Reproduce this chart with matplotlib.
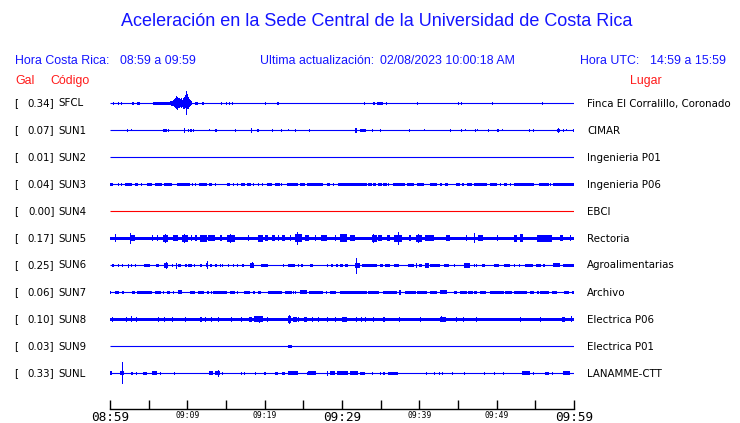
import matplotlib
matplotlib.use("Agg")
import matplotlib.pyplot as plt

# ---------------- data ----------------
title = "Aceleración en la Sede Central de la Universidad de Costa Rica"
hora_cr = "08:59 a 09:59"
ultima = "02/08/2023 10:00:18 AM"
hora_utc = "14:59 a 15:59"

gal = ["0.34", "0.07", "0.01", "0.04", "0.00", "0.17", "0.25", "0.06", "0.10", "0.03", "0.33"]
codes = ["SFCL", "SUN1", "SUN2", "SUN3", "SUN4", "SUN5", "SUN6", "SUN7", "SUN8", "SUN9", "SUNL"]
places = ["Finca El Corralillo, Coronado", "CIMAR", "Ingenieria P01", "Ingenieria P06", "EBCI",
          "Rectoria", "Agroalimentarias", "Archivo", "Electrica P06", "Electrica P01", "LANAMME-CTT"]
trace_colors = ["#0000ff"] * 4 + ["#ff0000"] + ["#0000ff"] * 6

# background noise level of each trace (relative amplitude)
noise = [0, 0, 0, 0, 0, 1.8, 0, 0, 1.6, 0, 0]

# bursts: (start minute, end minute, amplitude[, lower amplitude])
sfcl = [(0.43, 0.43, 1.5), (1.08, 1.08, 1.5), (1.38, 1.38, 1.5), (2.89, 3.15, 1.5), (3.45, 3.88, 1.8),
        (5.61, 6.69, 1.5), (6.78, 7.77, 1.5),
        (7.80, 7.95, 2), (7.95, 8.1, 2.5), (8.1, 8.25, 3), (8.25, 8.4, 4), (8.4, 8.5, 5),
        (8.5, 8.6, 7, 6), (8.6, 8.7, 4), (8.7, 8.85, 6, 7), (8.85, 9.0, 5), (9.0, 9.15, 4),
        (9.15, 9.3, 5), (9.3, 9.45, 3.5), (9.45, 9.6, 5, 6), (9.6, 9.7, 6), (9.7, 9.8, 8, 5),
        (9.8, 9.9, 12, 12), (9.9, 10.0, 7), (10.0, 10.1, 9, 6), (10.1, 10.2, 6), (10.2, 10.35, 4),
        (10.35, 10.5, 3), (10.5, 10.66, 2),
        (11.0, 11.44, 1.5), (11.9, 12.17, 1.5), (14.38, 14.38, 1.2), (14.98, 14.98, 1.5),
        (15.4, 15.4, 1.5), (15.76, 15.76, 1.5), (20.08, 20.08, 1.5), (21.67, 21.9, 1.2),
        (32.9, 32.9, 1.5), (34.1, 34.3, 1.5), (34.6, 35.4, 1.8), (35.75, 35.75, 1.5),
        (39.8, 39.8, 1.5), (45.0, 45.2, 1.5), (45.5, 45.5, 1.2), (49.4, 49.4, 1.5), (55.9, 55.9, 1.5)]

sun1 = [(2.16, 2.3, 1.5), (2.72, 2.72, 1.0), (6.9, 7.34, 1.5), (7.47, 7.47, 1.5), (9.63, 9.63, 2.2, 2.8),
        (10.06, 10.06, 1.5), (10.36, 10.66, 1.5), (10.79, 10.79, 1.5), (12.86, 12.86, 1.0),
        (13.6, 13.8, 1.5), (16.2, 16.2, 1.5), (18.2, 18.35, 2.0, 2.8), (19.0, 19.25, 1.5),
        (21.0, 21.0, 1.5), (22.1, 22.1, 1.2), (23.0, 23.0, 1.0), (23.9, 23.9, 1.5), (25.8, 25.8, 1.5),
        (31.7, 32.0, 2.0, 2.8), (32.3, 33.2, 1.8), (33.9, 33.9, 1.5), (34.9, 34.9, 1.5),
        (38.7, 38.7, 1.5), (40.6, 40.6, 1.0), (44.0, 44.0, 1.5), (45.4, 45.4, 1.5), (45.9, 45.9, 1.0),
        (47.2, 47.2, 1.5), (47.5, 47.5, 1.0), (48.9, 48.9, 1.5), (50.1, 50.4, 1.8), (50.7, 50.7, 1.0),
        (54.3, 54.3, 1.5), (54.7, 54.7, 1.5), (57.8, 58.3, 1.8), (58.05, 58.05, 2.5, 3.0),
        (58.7, 58.7, 1.2), (59.0, 59.0, 1.0), (59.9, 59.9, 1.5)]

sun2 = []

sun3 = [(0.0, 0.43, 1.6), (1.08, 1.08, 1.5), (1.42, 1.42, 1.5), (1.94, 2.8, 1.6), (3.24, 3.67, 1.6),
        (4.0, 4.0, 1.5), (4.75, 5.4, 1.6), (5.83, 6.69, 1.6), (7.0, 7.99, 1.6), (8.63, 10.36, 1.6),
        (10.66, 10.66, 1.5), (11.0, 11.0, 1.5), (11.57, 12.52, 1.6), (12.87, 13.25, 1.6), (13.6, 13.6, 1.5),
        (15.1, 15.54, 1.6), (15.97, 15.97, 1.5), (16.5, 16.5, 1.5), (16.97, 17.5, 1.6), (17.7, 18.22, 1.6),
        (18.56, 18.56, 1.5), (19.2, 19.2, 1.5), (19.64, 19.64, 1.5), (20.3, 20.94, 1.6), (21.37, 22.0, 1.6),
        (22.2, 22.2, 1.5), (22.9, 24.4, 1.6), (24.6, 25.26, 1.6), (25.47, 27.63, 1.6), (28.06, 28.5, 1.6),
        (28.9, 28.9, 1.5), (29.57, 33.25, 1.6), (33.46, 33.9, 1.6), (34.1, 34.45, 1.6), (34.75, 35.2, 1.6),
        (35.4, 35.83, 1.6), (36.05, 36.05, 1.5), (36.6, 38.2, 1.6), (38.4, 39.3, 1.6), (39.7, 40.6, 1.6),
        (41.4, 42.3, 1.6), (42.66, 42.96, 1.6), (43.4, 43.8, 1.6), (44.8, 45.25, 1.6), (45.55, 45.85, 1.6),
        (46.2, 46.85, 1.6), (47.06, 48.8, 1.6), (49.2, 50.1, 1.6), (50.43, 50.43, 1.5), (50.95, 51.4, 1.6),
        (51.8, 51.8, 1.5), (52.24, 54.83, 1.6), (55.57, 56.8, 1.6), (57.0, 57.0, 1.5), (57.4, 60.15, 1.6)]

sun4 = []

sun5 = [(0.6, 0.75, 4), (2.59, 3.24, 3), (2.63, 2.72, 5.5), (5.4, 5.6, 3), (6.04, 6.04, 3), (6.9, 7.55, 3.5),
        (7.1, 7.2, 4.5), (8.2, 8.85, 3), (9.28, 10.15, 3.5), (9.6, 9.75, 4.5), (10.5, 10.5, 3), (11.0, 11.2, 3),
        (11.65, 12.52, 3.5), (12.74, 13.6, 3), (14.25, 14.55, 3), (15.1, 16.19, 3.5), (15.5, 15.6, 4.5),
        (17.9, 17.9, 3), (19.2, 19.86, 3.5), (20.08, 20.5, 3), (20.94, 21.37, 3), (21.8, 21.8, 3),
        (22.23, 22.67, 3), (23.3, 23.3, 3), (23.96, 24.82, 4), (24.2, 24.35, 6.5), (25.26, 25.7, 3),
        (26.55, 26.55, 3), (27.33, 28.06, 3), (29.14, 29.14, 3), (29.79, 30.65, 4), (31.1, 31.73, 3),
        (33.9, 34.54, 3.5), (34.0, 34.1, 4.5), (34.75, 35.2, 3), (35.83, 36.27, 3), (36.7, 37.8, 3.5),
        (37.3, 37.45, 6.5), (38.77, 38.77, 3), (39.63, 40.37, 3.5), (39.9, 40.0, 4.5), (40.8, 41.9, 3),
        (43.5, 44.04, 3), (46.1, 46.1, 3), (47.1, 47.3, 5), (47.58, 48.27, 3), (50.08, 50.08, 3),
        (52.24, 52.67, 3.5), (53.1, 53.45, 4), (55.26, 57.2, 3.5), (58.29, 58.63, 3), (59.58, 59.58, 3)]

sun6 = [(0.21, 0.56, 1.6), (1.08, 1.08, 1.5), (1.6, 1.6, 1.5), (2.37, 2.37, 1.5, 2.8), (2.72, 2.72, 1.5),
        (3.24, 3.24, 1.5), (4.45, 5.18, 1.6), (5.91, 6.35, 1.6), (7.04, 7.55, 2.2), (7.2, 7.3, 3.2),
        (7.99, 7.99, 1.5), (8.55, 8.55, 2.0, 3.8), (8.76, 9.19, 1.6), (9.71, 9.93, 1.6), (10.15, 10.66, 1.6),
        (10.92, 10.92, 1.5), (11.66, 11.87, 1.6), (12.43, 12.74, 2.0), (12.5, 12.58, 4.5, 4.0),
        (12.95, 13.25, 1.6), (13.6, 13.8, 1.6), (14.25, 14.25, 1.5), (14.55, 14.55, 1.5), (15.33, 15.33, 1.5),
        (15.9, 15.9, 1.5), (16.4, 16.4, 1.5), (17.05, 17.3, 1.6), (18.13, 18.7, 2.2), (18.35, 18.45, 3.0),
        (19.56, 20.5, 1.6), (22.45, 22.45, 1.5), (23.1, 23.96, 1.6), (24.3, 24.3, 1.5), (24.74, 25.04, 1.6),
        (25.9, 26.3, 1.6), (28.06, 28.06, 1.5), (28.6, 28.84, 1.6), (29.3, 29.57, 1.6), (29.79, 30.1, 1.6),
        (30.4, 30.87, 1.6), (31.73, 32.38, 2.2), (31.82, 31.9, 7.3, 9.0), (32.6, 34.54, 1.5),
        (34.97, 35.4, 1.6), (35.62, 36.27, 1.6), (36.78, 37.47, 1.6), (38.64, 39.29, 1.6), (39.63, 39.63, 2.5),
        (39.94, 40.37, 1.6), (40.8, 41.23, 2.5), (41.45, 42.74, 1.6), (43.26, 43.82, 1.6), (44.47, 44.47, 1.5),
        (45.77, 46.63, 2.2), (47.06, 47.06, 1.5), (47.4, 47.4, 1.5), (48.14, 48.57, 1.6), (49.65, 50.3, 1.6),
        (50.95, 51.8, 1.6), (52.24, 52.24, 1.5), (52.89, 52.89, 1.5), (53.67, 54.75, 1.6), (55.18, 55.78, 1.6),
        (56.1, 56.34, 1.6), (57.4, 58.29, 2.0), (58.63, 60.0, 1.6)]

sun7 = [(0.0, 0.13, 1.5), (0.65, 1.16, 1.6), (1.5, 1.85, 1.6), (2.89, 3.24, 1.6), (3.45, 5.4, 1.6),
        (5.83, 6.6, 1.6), (6.9, 6.9, 1.5), (7.34, 7.77, 1.6), (8.2, 8.2, 1.5), (8.85, 9.28, 2.0),
        (10.36, 11.0, 1.6), (11.35, 12.22, 1.6), (12.52, 12.82, 1.6), (13.08, 13.08, 1.5), (13.38, 15.11, 1.6),
        (15.54, 16.19, 1.6), (16.4, 16.4, 1.5), (17.4, 18.13, 1.6), (18.56, 18.78, 1.6), (19.2, 19.56, 1.6),
        (20.5, 22.23, 1.6), (22.67, 23.53, 1.6), (23.75, 23.75, 1.5), (23.96, 23.96, 1.5), (24.6, 25.47, 2.0),
        (25.77, 27.63, 1.6), (27.93, 27.93, 1.5), (28.5, 29.23, 1.6), (29.79, 33.25, 1.6), (33.46, 34.88, 1.6),
        (35.4, 37.13, 1.6), (37.35, 37.65, 2.5), (38.2, 39.63, 1.6), (39.8, 41.0, 1.6), (41.45, 42.3, 1.6),
        (42.74, 43.6, 2.0), (44.47, 44.9, 1.6), (45.33, 46.2, 1.6), (46.4, 46.97, 1.6), (47.15, 47.5, 1.6),
        (47.93, 48.7, 1.6), (49.2, 49.65, 1.6), (49.74, 50.95, 1.6), (51.16, 52.03, 1.6), (52.24, 53.97, 1.6),
        (54.4, 54.83, 1.6), (55.26, 55.48, 1.6), (55.7, 56.78, 1.6), (57.2, 57.85, 1.6), (58.72, 59.37, 1.6),
        (59.8, 60.15, 1.6)]

sun8 = [(0.21, 0.43, 2.5), (2.03, 2.03, 2.3), (2.72, 2.72, 3), (3.32, 3.32, 2.3), (6.17, 6.17, 2.3),
        (7.04, 7.04, 2.3), (7.99, 7.99, 2.3), (9.71, 9.71, 2.3), (11.66, 11.87, 2.3), (12.3, 12.3, 2.3),
        (13.08, 13.25, 2.5), (14.03, 14.03, 2.3), (15.67, 15.67, 2.3), (16.97, 16.97, 2.3), (18.0, 18.35, 2.5),
        (18.7, 19.86, 3.0), (19.3, 19.4, 3.0, 4.0), (20.29, 20.29, 2.3), (23.1, 23.4, 3.5), (23.2, 23.3, 4.5),
        (23.75, 24.18, 2.5), (24.4, 24.4, 2.3), (25.17, 25.47, 2.5), (26.12, 26.12, 2.3), (26.98, 26.98, 2.3),
        (28.06, 28.06, 2.3), (29.14, 29.14, 2.3), (30.0, 30.65, 2.3), (31.86, 31.86, 2.3), (32.47, 32.47, 2.3),
        (33.03, 33.03, 2.3), (34.1, 34.1, 2.3), (35.3, 35.62, 2.3), (37.47, 37.47, 2.5), (40.15, 40.15, 2.3),
        (42.66, 43.52, 2.5), (42.9, 43.0, 3.0), (44.82, 44.82, 2.3), (45.68, 45.68, 2.3), (47.4, 47.4, 2.3),
        (53.02, 53.02, 2.3), (55.6, 55.6, 2.3), (58.5, 58.93, 2.5), (59.67, 59.67, 3.0)]

sun9 = [(23.1, 23.6, 1.5)]

sunl = [(0.0, 0.3, 2.0), (1.3, 1.85, 2.0), (1.55, 1.65, 11.7, 11.0), (2.72, 3.02, 1.5), (3.32, 3.32, 1.5),
        (4.32, 4.75, 1.5), (5.4, 6.04, 2.0), (6.47, 6.47, 1.5), (8.33, 8.33, 1.5), (12.82, 13.38, 2.0),
        (13.6, 14.25, 2.0), (13.95, 14.05, 3.5), (14.46, 14.46, 1.5), (16.97, 16.97, 1.5), (17.4, 17.4, 1.5),
        (18.78, 18.78, 1.5), (19.99, 20.2, 1.5), (21.3, 21.8, 1.5), (22.23, 22.67, 1.5), (23.0, 24.4, 2.0),
        (25.47, 25.47, 1.5), (25.69, 26.64, 2.0), (28.06, 28.28, 2.5), (28.5, 29.14, 2.0), (29.36, 30.87, 2.0),
        (31.08, 32.16, 2.0), (32.38, 33.03, 1.5), (33.9, 33.9, 1.5), (34.97, 34.97, 1.5), (35.3, 35.62, 1.5),
        (36.05, 37.22, 1.5), (40.93, 40.93, 1.5), (41.97, 41.97, 1.5), (42.53, 42.53, 1.5), (42.96, 42.96, 1.5),
        (44.25, 44.25, 1.5), (45.77, 45.98, 1.5), (48.36, 48.36, 1.5), (49.65, 49.65, 1.5), (50.86, 50.86, 1.5),
        (53.32, 54.31, 2.0), (54.75, 54.75, 1.5), (56.34, 56.78, 1.5), (57.2, 57.2, 1.5), (58.63, 59.58, 2.0)]

bursts = [sfcl, sun1, sun2, sun3, sun4, sun5, sun6, sun7, sun8, sun9, sunl]

tick_minutes = [0, 5, 10, 15, 20, 25, 30, 35, 40, 45, 50, 55, 60]
tick_labels = ["08:59", "", "09:09", "", "09:19", "", "09:29", "", "09:39", "", "09:49", "", "09:59"]
big_labels = ["08:59", "09:29", "09:59"]

# ---------------- figure ----------------
W, H = 740, 423
fig = plt.figure(figsize=(W / 100, H / 100), dpi=100)
fig.patch.set_facecolor("white")

BLUE = "#1414ff"
RED = "#ff1a1a"
SANS = ["Liberation Sans", "DejaVu Sans"]


def fx(px):
    return px / W


def fy(py):
    return 1 - py / H


fig.text(fx(377), fy(21), title, color=BLUE, fontsize=13, family=SANS, ha="center", va="center")
fig.text(fx(15), fy(60.5), "Hora Costa Rica:", color=BLUE, fontsize=8.9, family=SANS, va="center")
fig.text(fx(120), fy(60.5), hora_cr, color=BLUE, fontsize=8.9, family=SANS, va="center")
fig.text(fx(260), fy(60.5), "Ultima actualización:", color=BLUE, fontsize=8.9, family=SANS, va="center")
fig.text(fx(380), fy(60.5), ultima, color=BLUE, fontsize=8.9, family=SANS, va="center")
fig.text(fx(580), fy(60.5), "Hora UTC:", color=BLUE, fontsize=8.9, family=SANS, va="center")
fig.text(fx(650.5), fy(60.5), hora_utc, color=BLUE, fontsize=8.9, family=SANS, va="center")
fig.text(fx(15), fy(81), "Gal", color=RED, fontsize=8.9, family=SANS, va="center")
fig.text(fx(50), fy(81), "Código", color=RED, fontsize=8.9, family=SANS, va="center")
fig.text(fx(630), fy(81), "Lugar", color=RED, fontsize=8.9, family=SANS, va="center")

# trace axes: x in minutes after 08:59, y in pixel rows
ax = fig.add_axes([fx(110), 0, fx(463.5), 1])
ax.set_xlim(0, 60)
ax.set_ylim(H, 0)
ax.axis("off")

ROW0, DY = 103.5, 27.0
MINW = 0.13
LAB = ["DejaVu Sans"]
for i in range(len(codes)):
    y = ROW0 + i * DY
    c = trace_colors[i]
    ax.plot([0, 60.15], [y, y], color=c, lw=0.8, solid_capstyle="butt")
    if noise[i]:
        ax.bar(0, 2 * noise[i], width=60.15, bottom=y - noise[i], align="edge", color=c, linewidth=0)
    for b in bursts[i]:
        t0, t1, up = b[0], b[1], b[2]
        dn = b[3] if len(b) > 3 else up
        w = max(t1 - t0, MINW)
        ax.bar(t0, up + dn, width=w, bottom=y - up, align="edge", color=c, linewidth=0)
    fig.text(fx(14.5), fy(y), "[", fontsize=7.4, family=LAB, va="center", color="black")
    fig.text(fx(54.5), fy(y), gal[i] + "]", fontsize=7.4, family=LAB, va="center", ha="right", color="black")
    fig.text(fx(58.5), fy(y), codes[i], fontsize=7.4, family=LAB, va="center", color="black")
    fig.text(fx(587), fy(y), places[i], fontsize=7.4, family=LAB, va="center", color="black")

# time axis
tax = fig.add_axes([fx(110), fy(409), fx(464), fy(380) - fy(409)])
tax.set_xlim(0, 60)
tax.set_ylim(0, 1)
tax.patch.set_alpha(0)
for s in ["top", "left", "right"]:
    tax.spines[s].set_visible(False)
tax.spines["bottom"].set_linewidth(1.0)
tax.set_yticks([])
tax.set_xticks(tick_minutes)
tax.set_xticklabels(tick_labels)
tax.tick_params(axis="x", direction="in", length=6.8, width=1.0, pad=1.5, colors="black")
for lab in tax.get_xticklabels():
    lab.set_family("DejaVu Sans Mono")
    if lab.get_text() in big_labels:
        lab.set_fontsize(9.2)
    else:
        lab.set_fontsize(5.8)

fig.savefig("out.png", dpi=100, facecolor="white")
